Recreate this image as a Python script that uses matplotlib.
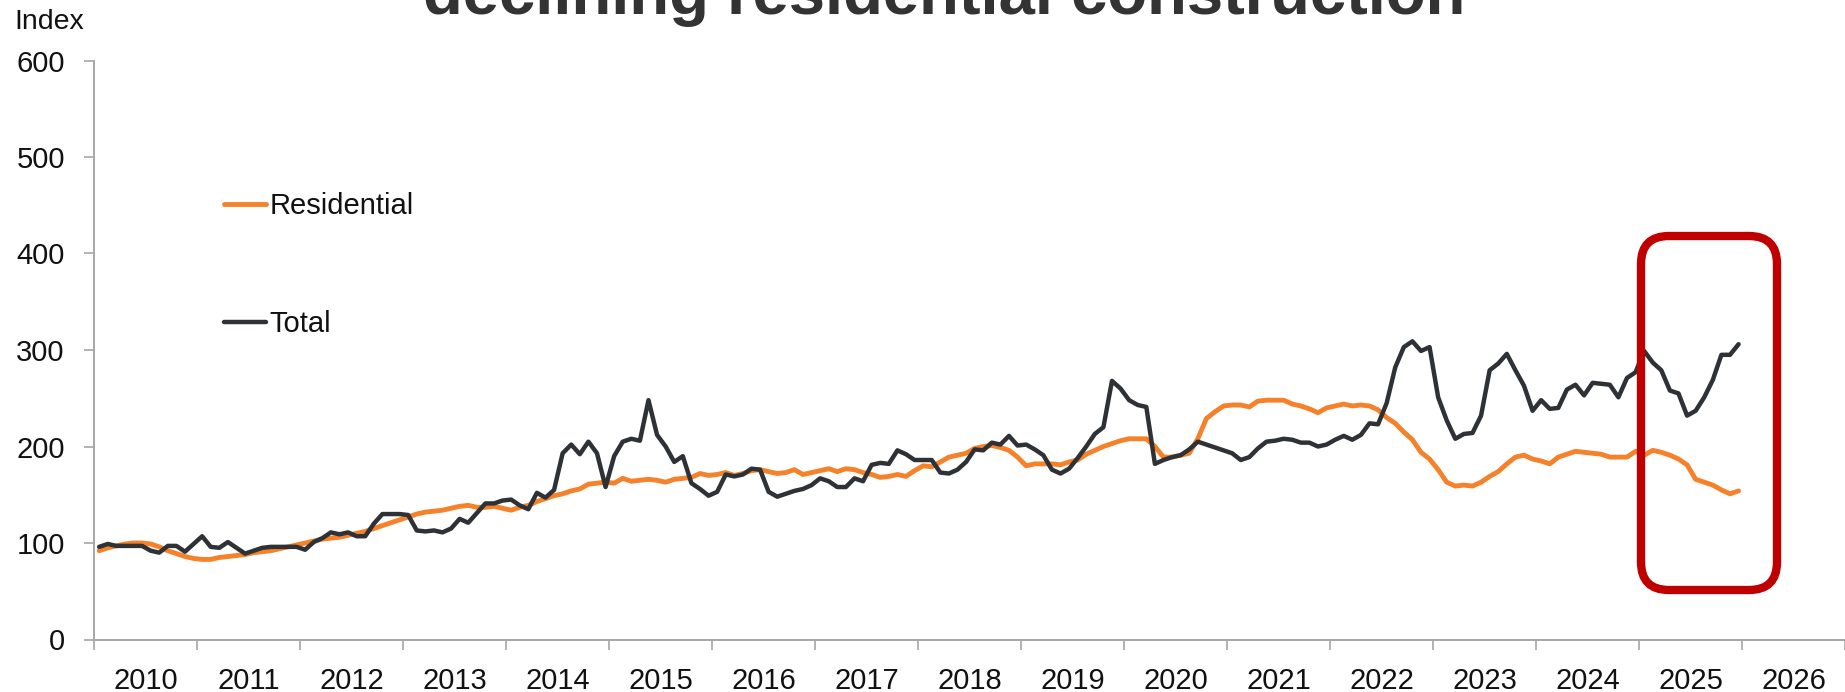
import numpy as np
import matplotlib
matplotlib.use("Agg")
import matplotlib.pyplot as plt
from matplotlib.patches import FancyBboxPatch
import matplotlib.transforms as mtransforms

# ---------------- data (monthly, Jan 2010 - Dec 2025) ----------------
start_year = 2010
total = [
    96, 99, 97, 97, 97, 97, 92, 90, 97, 97, 91, 99,
    107, 96, 95, 101, 95, 89, 92, 95, 96, 96, 96, 96,
    93, 101, 105, 111, 109, 111, 107, 107, 120, 130, 130, 130,
    129, 113, 112, 113, 111, 115, 125, 121, 131, 141, 141, 144,
    145, 139, 135, 152, 147, 155, 193, 202, 192, 205, 193, 158,
    190, 205, 208, 206, 248, 212, 200, 184, 190, 162, 156, 149,
    153, 171, 169, 171, 177, 176, 153, 148, 151, 154, 156, 160,
    167, 164, 158, 158, 167, 164, 181, 183, 182, 196, 192, 186,
    186, 186, 173, 172, 176, 184, 197, 196, 204, 202, 211, 201,
    202, 197, 191, 176, 172, 177, 188, 200, 213, 220, 268, 260,
    248, 243, 241, 182, 186, 189, 191, 197, 205, 202, 199, 196,
    193, 186, 189, 198, 205, 206, 208, 207, 204, 204, 200, 202,
    207, 211, 207, 212, 224, 223, 245, 282, 303, 309, 299, 303,
    251, 227, 208, 213, 214, 232, 279, 286, 296, 279, 263, 237,
    248, 239, 240, 259, 264, 253, 266, 265, 264, 251, 271, 277,
    299, 287, 279, 258, 255, 232, 237, 251, 269, 295, 295, 306,
]
residential = [
    92, 95, 97, 99, 100, 100, 99, 96, 92, 89, 86, 84,
    83, 83, 85, 86, 87, 88, 90, 91, 92, 94, 96, 98,
    100, 102, 104, 105, 106, 108, 110, 112, 115, 118, 121, 124,
    127, 130, 132, 133, 134, 136, 138, 139, 137, 137, 138, 136,
    134, 137, 139, 143, 146, 149, 151, 154, 156, 161, 162, 163,
    162, 167, 164, 165, 166, 165, 163, 166, 167, 168, 172, 170,
    171, 173, 170, 172, 175, 176, 174, 172, 173, 176, 171, 173,
    175, 177, 174, 177, 176, 173, 171, 168, 169, 171, 169, 175,
    180, 179, 184, 189, 191, 193, 198, 200, 201, 199, 196, 189,
    180, 182, 182, 182, 181, 184, 186, 192, 196, 200, 203, 206,
    208, 208, 208, 200, 189, 189, 191, 193, 208, 229, 236, 242,
    243, 243, 241, 247, 248, 248, 248, 244, 242, 239, 235, 240,
    242, 244, 242, 243, 242, 238, 230, 224, 215, 207, 194, 187,
    176, 163, 159, 160, 159, 163, 169, 174, 182, 189, 191, 187,
    185, 182, 189, 192, 195, 194, 193, 192, 189, 189, 189, 195,
    191, 196, 194, 191, 187, 181, 166, 163, 160, 155, 151, 154,
]
year_labels = [str(y) for y in range(2010, 2027)]
y_ticks = [0, 100, 200, 300, 400, 500, 600]
title_text = "declining residential construction"
y_title = "Index"
series_names = ["Residential", "Total"]

# ---------------- figure ----------------
W, H, DPI = 1845, 692, 100
plt.rcParams['font.family'] = ['Liberation Sans', 'DejaVu Sans']
fig = plt.figure(figsize=(W / DPI, H / DPI), dpi=DPI)
fig.patch.set_facecolor('white')

ax = fig.add_axes([94 / W, (H - 639.5) / H, (W - 94) / W, 579 / H])
ax.set_facecolor('none')

n = len(total)
x = start_year + (np.arange(n) + 0.6) / 12.0

orange = '#F5822A'
dark = '#2E3236'
l_res, = ax.plot(x, residential, color=orange, lw=3.5, solid_joinstyle='round',
                 solid_capstyle='round', zorder=3)
l_tot, = ax.plot(x, total, color=dark, lw=3.2, solid_joinstyle='round',
                 solid_capstyle='round', zorder=4)

ax.set_xlim(2010, 2027)
ax.set_ylim(0, 600)

gray = '#A6A6A6'
for s in ['top', 'right']:
    ax.spines[s].set_visible(False)
for s in ['left', 'bottom']:
    ax.spines[s].set_color(gray)
    ax.spines[s].set_linewidth(1.4)

ax.set_yticks(y_ticks)
ax.set_yticklabels([str(v) for v in y_ticks])
ax.tick_params(axis='y', direction='out', length=7, width=1.2, color=gray,
               labelsize=21, pad=14, labelcolor='#111111')

ax.set_xticks(np.arange(2010, 2028))
ax.set_xticklabels([])
ax.set_xticks(np.arange(2010, 2027) + 0.5, minor=True)
ax.set_xticklabels(year_labels, minor=True)
ax.tick_params(axis='x', which='major', direction='out', length=7, width=1.2, color=gray)
ax.tick_params(axis='x', which='minor', length=0, labelsize=21, pad=20, labelcolor='#111111')

# legend
leg = ax.legend(handles=[l_res, l_tot], labels=series_names, loc='upper left',
                bbox_to_anchor=(224 / W, 1 - 192 / H), bbox_transform=fig.transFigure,
                frameon=False, fontsize=21, handlelength=1.45, handletextpad=0.1,
                labelspacing=3.1, borderpad=0, borderaxespad=0)
for t in leg.get_texts():
    t.set_color('#111111')

# axis title
fig.text(14 / W, 1 - 22 / H, y_title, fontsize=20.5, ha='left', va='center', color='#111111')

# chart title (partially cut off at the top, as in the reference)
fig.text(944 / W, 1 - 14 / H, title_text, fontsize=47, fontweight='bold',
         ha='center', va='baseline', color='#333333')

# red highlight box (pixel coordinates)
box = FancyBboxPatch((1641, H - 590), 136, 354,
                     boxstyle="round,pad=0,rounding_size=28",
                     transform=mtransforms.IdentityTransform(),
                     linewidth=6, edgecolor='#C00000', facecolor='none', zorder=10)
fig.add_artist(box)

fig.savefig('out.png', dpi=DPI, facecolor='white')
